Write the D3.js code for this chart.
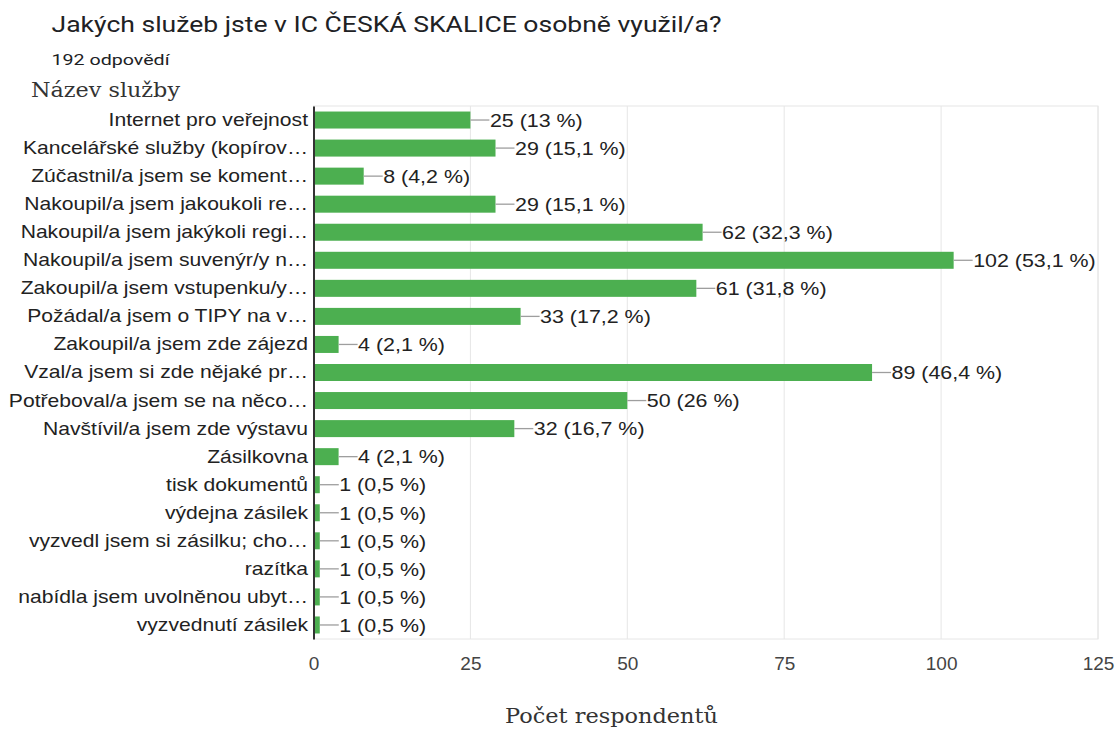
<!DOCTYPE html>
<html>
<head>
<meta charset="utf-8">
<script src="https://cdn.jsdelivr.net/npm/d3@7"></script>
<style>
  body { margin: 0; background: #fff; }
  svg { display: block; }
</style>
</head>
<body>
<svg id="chart" width="1117" height="729"></svg>
<script>
var categories = [
    "Internet pro veřejnost",
    "Kancelářské služby (kopírov…",
    "Zúčastnil/a jsem se koment…",
    "Nakoupil/a jsem jakoukoli re…",
    "Nakoupil/a jsem jakýkoli regi…",
    "Nakoupil/a jsem suvenýr/y n…",
    "Zakoupil/a jsem vstupenku/y…",
    "Požádal/a jsem o TIPY na v…",
    "Zakoupil/a jsem zde zájezd",
    "Vzal/a jsem si zde nějaké pr…",
    "Potřeboval/a jsem se na něco…",
    "Navštívil/a jsem zde výstavu",
    "Zásilkovna",
    "tisk dokumentů",
    "výdejna zásilek",
    "vyzvedl jsem si zásilku; cho…",
    "razítka",
    "nabídla jsem uvolněnou ubyt…",
    "vyzvednutí zásilek"
];
var counts = [25, 29, 8, 29, 62, 102, 61, 33, 4, 89, 50, 32, 4, 1, 1, 1, 1, 1, 1];
var percents = ["13", "15,1", "4,2", "15,1", "32,3", "53,1", "31,8", "17,2", "2,1", "46,4", "26", "16,7", "2,1", "0,5", "0,5", "0,5", "0,5", "0,5", "0,5"];
var xTicks = [0, 25, 50, 75, 100, 125];

var data = categories.map(function (c, i) {
    return { name: c, count: counts[i], pct: percents[i] };
});

var margin = { top: 106, right: 19, bottom: 90, left: 313.5 };
var width = 784.5,
    height = 729 - margin.top - margin.bottom;

var svg = d3.select('#chart');

// widen glyphs a bit, the reference text is drawn wider than our fonts
function stretch(sel, k) {
    sel.each(function () {
        var len = this.getComputedTextLength();
        d3.select(this)
            .attr('textLength', len * k)
            .attr('lengthAdjust', 'spacingAndGlyphs');
    });
}

function fitTo(sel, len) {
    sel.attr('textLength', len).attr('lengthAdjust', 'spacingAndGlyphs');
}

// header texts
svg.append('text')
    .attr('x', 51.5).attr('y', 32.3)
    .style('font-family', 'Roboto, sans-serif')
    .style('font-size', '22.5px')
    .style('fill', '#202124')
    .text('Jakých služeb jste v IC ČESKÁ SKALICE osobně využil/a?')
    .call(fitTo, 670);

svg.append('text')
    .attr('x', 51.5).attr('y', 65)
    .style('font-family', 'Roboto, sans-serif')
    .style('font-size', '15.5px')
    .style('fill', '#202124')
    .text('192 odpovědí')
    .call(fitTo, 118);

svg.append('text')
    .attr('x', 31).attr('y', 96.5)
    .style('font-family', '"DejaVu Serif", serif')
    .style('font-size', '19.5px')
    .style('fill', '#333')
    .text('Název služby')
    .call(fitTo, 149);

var x = d3.scaleLinear()
    .domain([0, 125])
    .range([0, width]);

var y = d3.scaleBand()
    .domain(categories)
    .range([0, height])
    .paddingInner(0.394)
    .paddingOuter(0.197);

var g = svg.append('g')
    .attr('transform', 'translate(' + margin.left + ',' + margin.top + ')');

// frame + grid
g.append('rect')
    .attr('x', 0).attr('y', 0)
    .attr('width', x(125)).attr('height', height)
    .style('fill', 'none')
    .style('stroke', '#e6e6e6');

g.selectAll('.grid')
    .data(xTicks.slice(1))
    .enter().append('line')
    .attr('class', 'grid')
    .attr('x1', function (d) { return x(d); })
    .attr('x2', function (d) { return x(d); })
    .attr('y1', 0).attr('y2', height)
    .style('stroke', '#e6e6e6');

// x axis labels
var xAxis = d3.axisBottom(x).tickValues(xTicks).tickSize(0).tickPadding(18);
var xg = g.append('g')
    .attr('transform', 'translate(0,' + height + ')')
    .call(xAxis);
xg.select('.domain').remove();
xg.selectAll('text')
    .style('font-family', '"Liberation Sans", Arial, sans-serif')
    .style('font-size', '19px')
    .style('fill', '#444');

// bars
g.selectAll('.bar')
    .data(data)
    .enter().append('rect')
    .attr('class', 'bar')
    .attr('x', 0)
    .attr('y', function (d) { return y(d.name); })
    .attr('width', function (d) { return x(d.count); })
    .attr('height', y.bandwidth())
    .style('fill', '#4caf50');

// leader lines
g.selectAll('.leader')
    .data(data)
    .enter().append('line')
    .attr('class', 'leader')
    .attr('x1', function (d) { return x(d.count); })
    .attr('x2', function (d) { return x(d.count) + 19; })
    .attr('y1', function (d) { return y(d.name) + y.bandwidth() / 2; })
    .attr('y2', function (d) { return y(d.name) + y.bandwidth() / 2; })
    .style('stroke', '#9e9e9e')
    .style('stroke-width', 1.3);

// value labels
g.selectAll('.val')
    .data(data)
    .enter().append('text')
    .attr('class', 'val')
    .attr('x', function (d) { return x(d.count) + 19.5; })
    .attr('y', function (d) { return y(d.name) + y.bandwidth() / 2; })
    .attr('dy', '0.36em')
    .style('font-family', '"Liberation Sans", Arial, sans-serif')
    .style('font-size', '18.8px')
    .style('fill', '#222')
    .text(function (d) { return d.count + ' (' + d.pct + ' %)'; })
    .call(stretch, 1.14);

// y axis
var yAxis = d3.axisLeft(y).tickSize(0).tickPadding(5.5);
var yg = g.append('g').call(yAxis);
yg.select('.domain')
    .style('stroke', '#333')
    .style('stroke-width', 2);
yg.selectAll('text')
    .style('font-family', '"Liberation Sans", Arial, sans-serif')
    .style('font-size', '18.6px')
    .style('fill', '#222')
    .call(stretch, 1.135);

// x axis title
svg.append('text')
    .attr('x', 611.5).attr('y', 723)
    .attr('text-anchor', 'middle')
    .style('font-family', '"DejaVu Serif", serif')
    .style('font-size', '20.5px')
    .style('fill', '#333')
    .text('Počet respondentů')
    .call(fitTo, 213);
</script>
</body>
</html>
